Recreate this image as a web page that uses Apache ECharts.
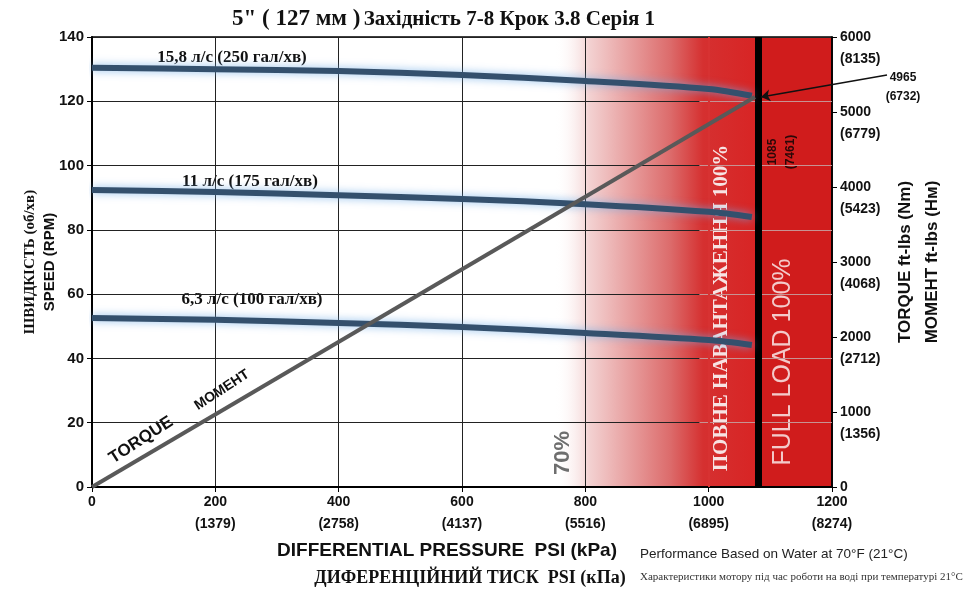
<!DOCTYPE html>
<html>
<head>
<meta charset="utf-8">
<title>5" (127 мм) Західність 7-8 Крок 3.8 Серія 1</title>
<script src="https://cdn.jsdelivr.net/npm/echarts@6/dist/echarts.min.js"></script>
<style>
  html, body { margin: 0; padding: 0; background: #fff; }
  #chart { width: 971px; height: 590px; }
</style>
</head>
<body>
<div id="chart"></div>
<script>
// осі
const pressureTicks = [0, 200, 400, 600, 800, 1000, 1200];
const pressureKpa = ['', '1379', '2758', '4137', '5516', '6895', '8274'];
const speedTicks = [0, 20, 40, 60, 80, 100, 120, 140];
const torqueTicks = [0, 1000, 2000, 3000, 4000, 5000, 6000];
const torqueNm = ['', '1356', '2712', '4068', '5423', '6779', '8135'];

// витрата: PSI -> об/хв
const flowNames = ['15,8 л/с (250 гал/хв)', '11 л/с (175 гал/хв)', '6,3 л/с (100 гал/хв)'];
const flowPressure = [0, 200, 400, 600, 800, 1000, 1070];
const flow250 = [130.4, 130, 129.4, 128.2, 126.3, 123.8, 121.7];
const flow175 = [92.4, 91.8, 90.8, 89.6, 88, 85.6, 84];
const flow100 = [52.6, 52, 51, 49.8, 47.9, 45.7, 44.2];

// момент: PSI -> ft-lbs
const torquePressure = [0, 1075];
const torqueValues = [0, 5200];

// зони навантаження
const loadStart = 750;      // 70%
const stallPressure = 1080; // 1085 psi, повне навантаження

const chart = echarts.init(document.getElementById('chart'));

const sans = 'Liberation Sans';
const serif = 'Liberation Serif';

const pairs = (xs, ys) => xs.map((x, i) => [x, ys[i]]);

const flowLine = {
  color: '#34506d',
  width: 6,
  shadowColor: 'rgba(110,170,230,0.75)',
  shadowBlur: 8
};

const maxPressure = pressureTicks[pressureTicks.length - 1];

chart.setOption({
  backgroundColor: '#fff',
  animation: false,
  grid: {
    left: 92,
    right: 139,
    top: 37,
    bottom: 103,
    show: true,
    backgroundColor: 'transparent',
    borderColor: '#000',
    borderWidth: 1.5,
    outerBoundsMode: 'none'
  },
  xAxis: {
    type: 'value',
    min: pressureTicks[0],
    max: maxPressure,
    interval: 200,
    axisLine: { show: true, lineStyle: { color: '#000', width: 2 } },
    axisTick: { show: true, length: 5, lineStyle: { color: '#000' } },
    axisLabel: {
      margin: 4,
      color: '#111',
      fontFamily: sans,
      fontWeight: 'bold',
      fontSize: 14,
      lineHeight: 22,
      formatter: function (v) {
        const i = pressureTicks.indexOf(v);
        return v === 0 ? '0' : v + '\n(' + pressureKpa[i] + ')';
      }
    },
    splitLine: { show: true, lineStyle: { color: '#222', width: 1 } }
  },
  yAxis: [
    {
      type: 'value',
      position: 'left',
      min: speedTicks[0],
      max: speedTicks[speedTicks.length - 1],
      interval: 20,
      axisLine: { show: true, lineStyle: { color: '#000', width: 2 } },
      axisTick: { show: true, length: 5, lineStyle: { color: '#000' } },
      axisLabel: { margin: 8, color: '#111', fontFamily: sans, fontWeight: 'bold', fontSize: 15 },
      splitLine: { show: true, lineStyle: { color: '#222', width: 1 } },
      name: '{a|ШВИДКІСТЬ (об/хв)}\n{b|SPEED (RPM)}',
      nameLocation: 'middle',
      nameRotate: 90,
      nameGap: 32,
      nameMoveOverlap: false,
      nameTextStyle: {
        lineHeight: 20,
        rich: {
          a: { fontFamily: serif, fontWeight: 'bold', fontSize: 15, color: '#111', lineHeight: 20 },
          b: { fontFamily: sans, fontWeight: 'bold', fontSize: 15, color: '#111', lineHeight: 20 }
        }
      }
    },
    {
      type: 'value',
      position: 'right',
      min: torqueTicks[0],
      max: torqueTicks[torqueTicks.length - 1],
      interval: 1000,
      axisLine: { show: true, lineStyle: { color: '#000', width: 1.5 } },
      axisTick: { show: true, length: 5, lineStyle: { color: '#000' } },
      axisLabel: {
        margin: 8,
        color: '#111',
        fontFamily: sans,
        fontWeight: 'bold',
        fontSize: 14,
        lineHeight: 22,
        formatter: function (v) {
          const i = torqueTicks.indexOf(v);
          return v === 0 ? '0' : ' \n' + v + '\n(' + torqueNm[i] + ')';
        }
      },
      splitLine: { show: false },
      name: 'TORQUE ft-lbs (Nm)\nМОМЕНТ ft-lbs (Нм)',
      nameLocation: 'middle',
      nameRotate: 90,
      nameGap: 60,
      nameTextStyle: { fontFamily: sans, fontWeight: 'bold', fontSize: 17, color: '#111', lineHeight: 27 }
    }
  ],
  series: [
    {
      // фон зон навантаження
      name: 'zones',
      type: 'line',
      data: [],
      silent: true,
      clip: false,
      markArea: {
        z: -1,
        silent: true,
        label: { show: false },
        data: [
          [
            {
              xAxis: loadStart,
              itemStyle: {
                color: {
                  type: 'linear', x: 0, y: 0, x2: 1, y2: 0,
                  colorStops: [
                    { offset: 0, color: 'rgba(255,255,255,0)' },
                    { offset: 0.17, color: '#f3d2d2' },
                    { offset: 0.57, color: '#dc6b6b' },
                    { offset: 0.73, color: '#d53030' },
                    { offset: 1, color: '#d82424' }
                  ]
                }
              }
            },
            { xAxis: stallPressure }
          ],
          [
            { xAxis: stallPressure, itemStyle: { color: '#d01c1c' } },
            { xAxis: maxPressure }
          ]
        ]
      },
      markLine: {
        z: 1,
        silent: true,
        symbol: ['none', 'none'],
        label: { show: false },
        lineStyle: { color: 'rgba(255,185,185,0.75)', width: 1, type: 'solid' },
        data: speedTicks.filter(v => v > 0 && v < 140).map(v => [
          { coord: [985, v] },
          { coord: [maxPressure, v] }
        ]).concat([
          { xAxis: 1000, lineStyle: { color: '#d73232', width: 2, type: 'solid' } },
          { xAxis: stallPressure, lineStyle: { color: '#000', width: 7, type: 'solid' } }
        ])
      }
    },
    {
      name: flowNames[0],
      type: 'line',
      data: pairs(flowPressure, flow250),
      showSymbol: false,
      smooth: 0.3,
      lineStyle: flowLine,
      z: 3
    },
    {
      name: flowNames[1],
      type: 'line',
      data: pairs(flowPressure, flow175),
      showSymbol: false,
      smooth: 0.3,
      lineStyle: flowLine,
      z: 3
    },
    {
      name: flowNames[2],
      type: 'line',
      data: pairs(flowPressure, flow100),
      showSymbol: false,
      smooth: 0.3,
      lineStyle: flowLine,
      z: 3
    },
    {
      name: 'TORQUE',
      type: 'line',
      yAxisIndex: 1,
      data: pairs(torquePressure, torqueValues),
      showSymbol: false,
      clip: false,
      lineStyle: { color: '#595959', width: 4 },
      z: 4,
      markLine: {
        silent: true,
        symbolSize: 9,
        label: { show: false },
        lineStyle: { color: '#111', width: 1.5, type: 'solid' },
        data: [
          [
            { coord: [1085, 5200], symbol: 'arrow' },
            { x: 887, y: 75, symbol: 'none' }
          ]
        ]
      }
    }
  ],
  graphic: [
    {
      type: 'text', left: 232, top: 8,
      style: {
        text: '{a|5" ( 127 мм )} {b|Західність 7-8 Крок 3.8 Серія 1}',
        rich: {
          a: { fontFamily: serif, fontWeight: 'bold', fontSize: 23, fill: '#111' },
          b: { fontFamily: serif, fontWeight: 'bold', fontSize: 21, fill: '#111' }
        }
      }
    },
    // підписи кривих
    { type: 'text', x: 232, y: 58, style: { text: flowNames[0], align: 'center', verticalAlign: 'middle', font: 'bold 17px "Liberation Serif"', fill: '#111' } },
    { type: 'text', x: 250, y: 182, style: { text: flowNames[1], align: 'center', verticalAlign: 'middle', font: 'bold 17px "Liberation Serif"', fill: '#111' } },
    { type: 'text', x: 252, y: 300, style: { text: flowNames[2], align: 'center', verticalAlign: 'middle', font: 'bold 17px "Liberation Serif"', fill: '#111' } },
    // момент
    { type: 'text', x: 141, y: 440, rotation: 33 * Math.PI / 180, style: { text: 'TORQUE', align: 'center', verticalAlign: 'middle', font: 'bold 17px "Liberation Sans"', fill: '#111' } },
    { type: 'text', x: 222, y: 390, rotation: 33 * Math.PI / 180, style: { text: 'МОМЕНТ', align: 'center', verticalAlign: 'middle', font: 'bold 14px "Liberation Sans"', fill: '#111' } },
    // зони
    { type: 'text', x: 563, y: 453, rotation: Math.PI / 2, style: { text: '70%', align: 'center', verticalAlign: 'middle', font: 'bold 22px "Liberation Sans"', fill: '#6e6e6e' } },
    { type: 'text', x: 722, y: 308, rotation: Math.PI / 2, style: { text: 'ПОВНЕ НАВАНТАЖЕННЯ 100%', align: 'center', verticalAlign: 'middle', font: 'bold 21px "Liberation Serif"', fill: '#f7e3e3' } },
    { type: 'text', x: 783, y: 362, rotation: Math.PI / 2, style: { text: 'FULL LOAD 100%', align: 'center', verticalAlign: 'middle', font: '25px "Liberation Sans"', fill: '#f3caca' } },
    { type: 'text', x: 782, y: 152, rotation: Math.PI / 2, style: { text: '1085\n(7461)', align: 'center', verticalAlign: 'middle', lineHeight: 18, font: 'bold 12px "Liberation Sans"', fill: '#2a0808' } },
    // точка зупинки
    { type: 'text', x: 903, y: 87, style: { text: '4965\n(6732)', align: 'center', verticalAlign: 'middle', lineHeight: 19, font: 'bold 12px "Liberation Sans"', fill: '#111' } },
    // підписи внизу
    { type: 'text', x: 447, y: 551, style: { text: 'DIFFERENTIAL PRESSURE  PSI (kPa)', align: 'center', verticalAlign: 'middle', font: 'bold 19px "Liberation Sans"', fill: '#111' } },
    { type: 'text', x: 470, y: 578, style: { text: 'ДИФЕРЕНЦІЙНИЙ ТИСК  PSI (кПа)', align: 'center', verticalAlign: 'middle', font: 'bold 18px "Liberation Serif"', fill: '#111' } },
    { type: 'text', x: 640, y: 554, style: { text: 'Performance Based on Water at 70°F (21°C)', align: 'left', verticalAlign: 'middle', font: '13.5px "Liberation Sans"', fill: '#222' } },
    { type: 'text', x: 640, y: 577, style: { text: 'Характеристики мотору під час роботи на воді при температурі 21°C', align: 'left', verticalAlign: 'middle', font: '11px "Liberation Serif"', fill: '#333' } }
  ]
});

window.addEventListener('resize', function () {
  chart.resize();
});
</script>
</body>
</html>
